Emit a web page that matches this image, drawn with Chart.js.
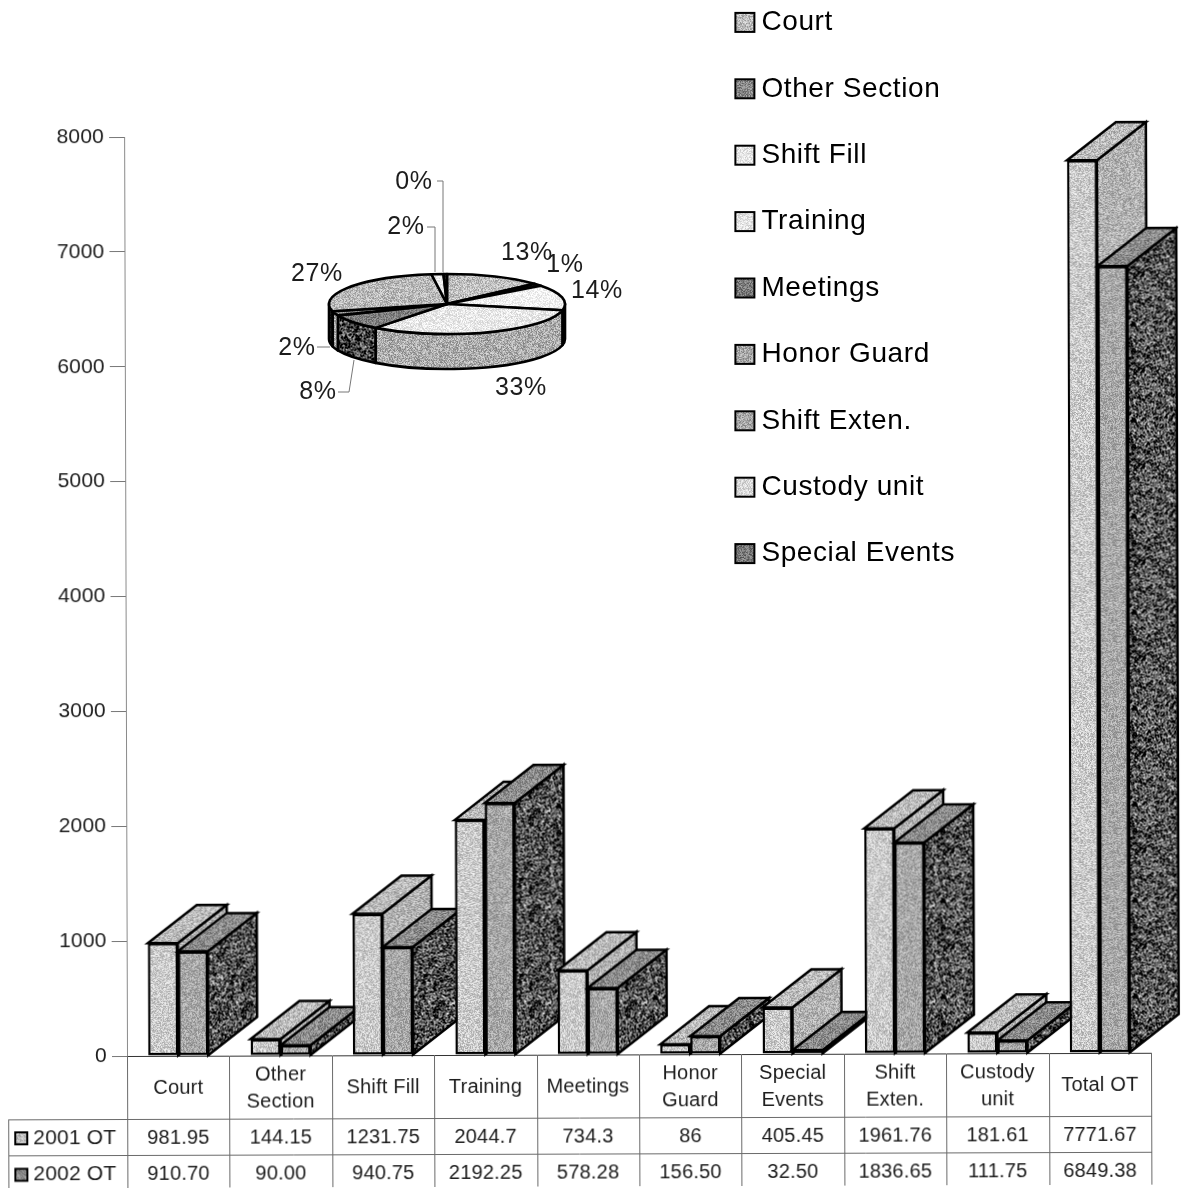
<!DOCTYPE html>
<html><head><meta charset="utf-8">
<style>
html,body{margin:0;padding:0;background:#fff;width:1181px;height:1188px;overflow:hidden}
#main{position:absolute;left:0;top:0;transform:rotate(-0.18deg);transform-origin:127px 1056px}
#pie{position:absolute;left:0;top:-30px}
</style>
<script src="https://cdn.jsdelivr.net/npm/chart.js@4/dist/chart.umd.min.js"></script>
</head><body>
<canvas id="main" width="1181" height="1188"></canvas>
<canvas id="pie" width="965" height="640"></canvas>
<script>
// ---- data ----
const categories = [['Court'],['Other','Section'],['Shift Fill'],['Training'],['Meetings'],['Honor','Guard'],['Special','Events'],['Shift','Exten.'],['Custody','unit'],['Total OT']];
const seriesNames = ['2001 OT','2002 OT'];
const ot2001 = [981.95,144.15,1231.75,2044.7,734.3,86,405.45,1961.76,181.61,7771.67];
const ot2002 = [910.70,90.00,940.75,2192.25,578.28,156.50,32.50,1836.65,111.75,6849.38];
const yTicks = [0,1000,2000,3000,4000,5000,6000,7000,8000];
const pieCategories = ['Court','Other Section','Shift Fill','Training','Meetings','Honor Guard','Shift Exten.','Custody unit','Special Events'];
const pieValues = [910.70,90.00,940.75,2192.25,578.28,156.50,1836.65,111.75,32.50];
const pieLabels = ['13%','1%','14%','33%','8%','2%','27%','2%','0%'];

// ---- styling ----
const FONT = '"Liberation Sans", Arial, sans-serif';
Chart.defaults.font.family = FONT;
Chart.defaults.animation = false;
function tex(base, amp, seed, blob){
  const S = 96, c = document.createElement('canvas'); c.width = c.height = S;
  const g = c.getContext('2d'), im = g.createImageData(S,S);
  let s = seed >>> 0;
  const nx = () => { s = (Math.imul(s,1664525)+1013904223)>>>0; return (s>>>8)/16777216; };
  const cell = [];
  for(let i=0;i<S*S;i++) cell.push(nx());
  for(let y=0;y<S;y++) for(let x=0;x<S;x++){
    let n = cell[y*S+x];
    if(blob){ n = (n + cell[y*S+((x+1)%S)] + cell[((y+1)%S)*S+x] + cell[((y+1)%S)*S+((x+1)%S)])/4; n = (n-0.5)*2+0.5; }
    const v = Math.max(0,Math.min(255, base + (n-0.5)*2*amp));
    const k=(y*S+x)*4; im.data[k]=im.data[k+1]=im.data[k+2]=v; im.data[k+3]=255;
  }
  g.putImageData(im,0,0);
  return document.createElement('canvas').getContext('2d').createPattern(c,'repeat');
}
const barFront = [tex(203,40,11), tex(168,40,12)];
const barTop   = [tex(188,45,13), tex(138,45,14)];
const barSide  = [tex(178,45,15), tex(82,85,16,true)];
const DEPTH_X = 49, DEPTH_Y = -38;

const pieTop  = [tex(190,40,21),tex(50,30,22),tex(240,22,23),tex(232,25,24),tex(125,35,25),tex(150,40,26),tex(185,40,27),tex(238,20,28),tex(60,30,29)];
const pieSide = [tex(150,40,31),tex(40,20,32),tex(110,40,33),tex(172,45,34),tex(65,80,35,true),tex(170,40,36),tex(25,20,37),tex(60,20,38),tex(30,20,39)];
const legendFill = [tex(188,40,41),tex(135,40,42),tex(228,25,43),tex(226,25,44),tex(120,40,45),tex(165,40,46),tex(165,40,47),tex(215,30,48),tex(118,40,49)];
const rowFill = [tex(190,40,51),tex(135,40,52)];
const TEXT = '#1c1c1c', GRID = '#6a6a6a';

// ---- 3D bars + table ----
function poly(ctx, pts, fill){
  ctx.beginPath(); pts.forEach((p,i)=> i?ctx.lineTo(p[0],p[1]):ctx.moveTo(p[0],p[1])); ctx.closePath();
  ctx.fillStyle = fill; ctx.fill(); ctx.stroke();
}
const bars3d = {
  id:'bars3d',
  beforeLayout(c){ c.ctx.letterSpacing='0.2px'; },
  beforeDraw(c){ c.ctx.letterSpacing='0.2px'; },
  beforeDatasetsDraw(chart){
    const ctx = chart.ctx;
    ctx.save(); ctx.lineWidth = 2.5; ctx.strokeStyle = '#000'; ctx.lineJoin='miter';
    categories.forEach((_,i)=>{
      [0,1].forEach(d=>{
        const el = chart.getDatasetMeta(d).data[i];
        const L = el.x-el.width/2, R = el.x+el.width/2, y = el.y, b = el.base;
        poly(ctx,[[R,b],[R+DEPTH_X,b+DEPTH_Y],[R+DEPTH_X,y+DEPTH_Y],[R,y]],barSide[d]);
        poly(ctx,[[L,y],[L+DEPTH_X,y+DEPTH_Y],[R+DEPTH_X,y+DEPTH_Y],[R,y]],barTop[d]);
        el.draw(ctx);
      });
    });
    ctx.restore();
    return false;
  },
  afterDraw(chart){
    const ctx = chart.ctx, x = chart.scales.x, a = chart.chartArea;
    const step = x.getPixelForValue(1)-x.getPixelForValue(0);
    const rowY = [1119,1155,1188], leftEdge = 8, rowNudge = [1,3];
    ctx.save();
    ctx.strokeStyle = GRID; ctx.lineWidth = 1;
    ctx.beginPath();
    rowY.forEach(y=>{ ctx.moveTo(leftEdge,y+.5); ctx.lineTo(a.right,y+.5); });
    ctx.moveTo(leftEdge+.5,rowY[0]); ctx.lineTo(leftEdge+.5,rowY[2]);
    for(let i=0;i<=categories.length;i++){
      const px = Math.round(x.getPixelForValue(0)-step/2+i*step)+.5;
      ctx.moveTo(px,a.bottom); ctx.lineTo(px,rowY[2]);
    }
    ctx.stroke();
    ctx.fillStyle = TEXT; ctx.textBaseline='middle'; ctx.textAlign='center';
    ctx.font = '20px '+FONT;
    const rows = [ot2001.map(v=>String(v)), ot2002.map(v=>v.toFixed(2))];
    rows.forEach((r,ri)=>{
      const cy = (rowY[ri]+rowY[ri+1])/2+rowNudge[ri];
      r.forEach((t,i)=>ctx.fillText(t,x.getPixelForValue(i),cy));
      ctx.save();
      ctx.fillStyle = rowFill[ri]; ctx.strokeStyle='#000'; ctx.lineWidth=2;
      ctx.fillRect(15,cy-6,12,12); ctx.strokeRect(15,cy-6,12,12);
      ctx.restore();
      ctx.textAlign='left'; ctx.font='21px '+FONT;
      ctx.fillText(seriesNames[ri],33,cy);
      ctx.textAlign='center'; ctx.font='20px '+FONT;
    });
    ctx.restore();
  }
};
new Chart(document.getElementById('main'),{
  type:'bar',
  data:{labels:categories,datasets:[
    {label:seriesNames[0],data:ot2001,backgroundColor:barFront[0],borderColor:'#000',borderWidth:2.5,borderSkipped:false},
    {label:seriesNames[1],data:ot2002,backgroundColor:barFront[1],borderColor:'#000',borderWidth:2.5,borderSkipped:false}
  ]},
  options:{
    responsive:false,
    layout:{padding:{top:137,right:30,left:0,bottom:0}},
    datasets:{bar:{categoryPercentage:0.586,barPercentage:1}},
    plugins:{legend:{display:false},tooltip:{enabled:false}},
    scales:{
      x:{
        afterFit(s){s.height=132;},
        grid:{display:false},
        border:{display:true,color:'#333',width:1},
        ticks:{autoSkip:false,maxRotation:0,minRotation:0,padding:11,crossAlign:'center',color:TEXT,font:{size:20,lineHeight:1.35}}
      },
      y:{
        min:0,max:8000,
        afterFit(s){s.width=127;},
        afterBuildTicks(s){s.ticks=yTicks.map(v=>({value:v}));},
        grid:{drawOnChartArea:false,tickLength:15,color:'#777',lineWidth:1},
        border:{color:'#8a8a8a',width:1},
        ticks:{padding:5,color:TEXT,font:{size:21},callback:v=>String(v)}
      }
    }
  },
  plugins:[bars3d]
});

// ---- flattened 3D pie + legend ----
const PAGE_SHIFT = 30;
const PIE_CX = 447, PIE_CY = 304+PAGE_SHIFT, PIE_RX = 118, PIE_RY = 30, PIE_D = 35;
const labelOffset = [[80,-51],[118,-39],[150,-13],[74,84],[-129,88],[-150,44],[-130,-30],[-41,-77],[-33,-122]];
const leaders = {4:[[338,392],[349,392],[354,360]],5:[[317,347],[330,347]],7:[[427,227],[435,227],[435,272]],8:[[437,181],[443,181],[443,272]]};
const pie3d = {
  id:'pie3d',
  beforeLayout(c){ c.ctx.letterSpacing='0.6px'; },
  beforeDraw(c){ c.ctx.letterSpacing='0.6px'; },
  beforeDatasetsDraw(chart){
    const ctx = chart.ctx, arcs = chart.getDatasetMeta(0).data;
    ctx.save(); ctx.lineWidth=2.6; ctx.strokeStyle='#000'; ctx.lineJoin='round';
    arcs.forEach((el,i)=>{
      const s = Math.max(el.startAngle,0), e = Math.min(el.endAngle,Math.PI);
      if(e>s){
        ctx.beginPath();
        ctx.ellipse(PIE_CX,PIE_CY,PIE_RX,PIE_RY,0,s,e);
        ctx.ellipse(PIE_CX,PIE_CY+PIE_D,PIE_RX,PIE_RY,0,e,s,true);
        ctx.closePath(); ctx.fillStyle=pieSide[i]; ctx.fill(); ctx.stroke();
      }
    });
    arcs.forEach((el,i)=>{
      ctx.beginPath(); ctx.moveTo(PIE_CX,PIE_CY);
      ctx.ellipse(PIE_CX,PIE_CY,PIE_RX,PIE_RY,0,el.startAngle,el.endAngle);
      ctx.closePath(); ctx.fillStyle=pieTop[i]; ctx.fill(); ctx.stroke();
    });
    ctx.restore();
    return false;
  },
  afterDraw(chart){
    const ctx = chart.ctx;
    ctx.save();
    ctx.font='25px '+FONT; ctx.fillStyle=TEXT; ctx.textAlign='center'; ctx.textBaseline='middle';
    pieLabels.forEach((t,i)=>ctx.fillText(t,PIE_CX+labelOffset[i][0],PIE_CY+labelOffset[i][1]));
    ctx.strokeStyle='#777'; ctx.lineWidth=1;
    Object.values(leaders).forEach(pts=>{
      ctx.beginPath(); pts.forEach((p,i)=> i?ctx.lineTo(p[0],p[1]+PAGE_SHIFT):ctx.moveTo(p[0],p[1]+PAGE_SHIFT)); ctx.stroke();
    });
    const boxes = chart.legend.legendHitBoxes;
    ctx.strokeStyle='#000'; ctx.lineWidth=2;
    boxes.forEach((b,i)=>{
      const y = b.top+(b.height-19)/2;
      ctx.fillStyle=legendFill[i];
      ctx.fillRect(b.left+1,y,19,19); ctx.strokeRect(b.left+1,y,19,19);
    });
    ctx.restore();
  }
};
new Chart(document.getElementById('pie'),{
  type:'pie',
  data:{labels:pieCategories,datasets:[{data:pieValues,backgroundColor:pieTop,borderColor:'#000',borderWidth:2}]},
  options:{
    responsive:false,
    layout:{padding:0},
    plugins:{
      tooltip:{enabled:false},
      legend:{
        display:true,position:'right',align:'start',
        labels:{
          boxWidth:13,boxHeight:20,padding:38.4,color:TEXT,font:{size:28},
          generateLabels(c){return pieCategories.map((t,i)=>({text:t,fillStyle:'rgba(0,0,0,0)',strokeStyle:'rgba(0,0,0,0)',lineWidth:0,index:i,hidden:false}));}
        }
      }
    }
  },
  plugins:[pie3d]
});
</script>
</body></html>
